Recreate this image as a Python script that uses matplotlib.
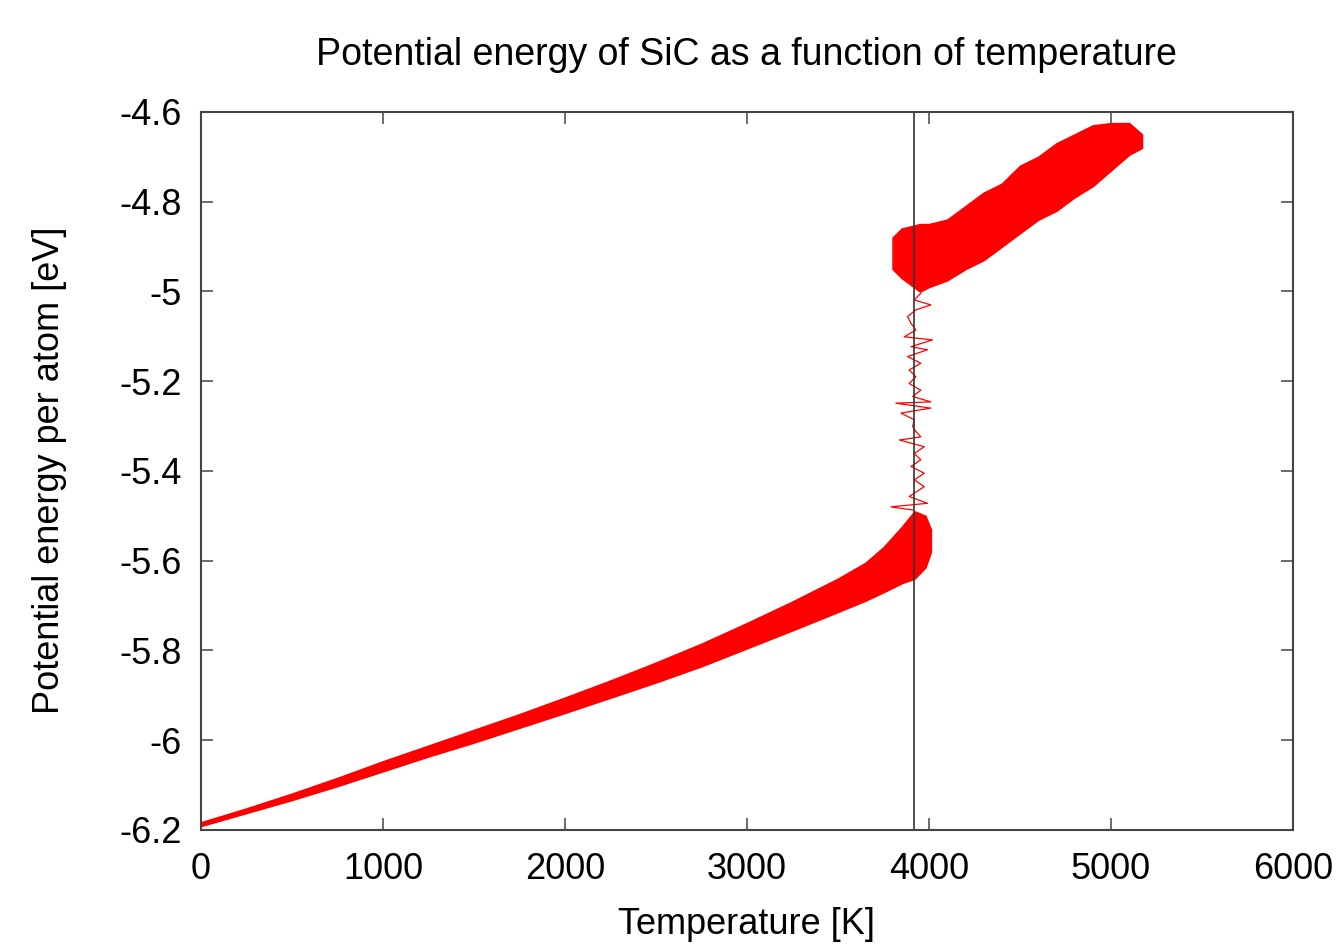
import matplotlib
matplotlib.use('Agg')
import matplotlib.pyplot as plt

plt.rcParams['font.family'] = ['Liberation Sans', 'DejaVu Sans']

# solid (low temperature) branch: envelope of the noisy trace
solid_T = [0, 250, 500, 750, 1000, 1250, 1500, 1750, 2000, 2250, 2500, 2750,
           3000, 3250, 3500, 3650, 3750, 3850, 3920, 3980, 4010]
solid_lo = [-6.191, -6.162, -6.133, -6.102, -6.069, -6.036, -6.005, -5.972,
            -5.939, -5.905, -5.871, -5.835, -5.795, -5.755, -5.714, -5.689,
            -5.670, -5.650, -5.640, -5.615, -5.580]
solid_hi = [-6.183, -6.152, -6.119, -6.084, -6.047, -6.012, -5.977, -5.942,
            -5.905, -5.867, -5.827, -5.785, -5.739, -5.691, -5.640, -5.605,
            -5.570, -5.525, -5.490, -5.500, -5.530]

# liquid (high temperature) branch
liquid_T = [3800, 3850, 3950, 4000, 4100, 4200, 4300, 4400, 4500, 4600,
            4700, 4800, 4900, 5000, 5100, 5170]
liquid_lo = [-4.95, -4.97, -5.00, -4.99, -4.975, -4.95, -4.93, -4.90, -4.87,
             -4.84, -4.82, -4.79, -4.765, -4.73, -4.695, -4.68]
liquid_hi = [-4.88, -4.86, -4.85, -4.85, -4.84, -4.81, -4.78, -4.76, -4.72,
             -4.70, -4.67, -4.65, -4.63, -4.625, -4.625, -4.65]

# melting jump, single trace
jump_T = [3910, 3791, 3992, 3891, 3974, 3919, 3974, 3901, 3955, 3919, 3974,
          3837, 3955, 3928, 3910, 3919, 3846, 4010, 3818, 4010, 3910, 3955,
          3891, 3928, 3891, 3955, 3882, 3992, 3901, 4019, 3864, 3928, 3901,
          3882, 3928, 4010, 3919, 3955]
jump_E = [-5.487, -5.480, -5.472, -5.457, -5.435, -5.420, -5.405, -5.390,
          -5.375, -5.361, -5.346, -5.331, -5.324, -5.312, -5.301, -5.286,
          -5.271, -5.260, -5.249, -5.246, -5.234, -5.220, -5.205, -5.190,
          -5.175, -5.160, -5.145, -5.130, -5.123, -5.108, -5.101, -5.086,
          -5.071, -5.056, -5.041, -5.030, -5.019, -5.004]

T_melt = 3920

fig = plt.figure(figsize=(13.41, 9.44), dpi=100)
ax = fig.add_axes([0.1499, 0.1208, 0.8143, 0.7606])

red = '#ff0000'
ax.fill_between(solid_T, solid_lo, solid_hi, color=red, lw=1.2, edgecolor=red)
ax.fill_between(liquid_T, liquid_lo, liquid_hi, color=red, lw=1.2, edgecolor=red)
ax.plot(jump_T, jump_E, color=red, lw=0.9)
ax.axvline(T_melt, color='#333333', lw=1.2)

ax.set_xlim(0, 6000)
ax.set_ylim(-6.2, -4.6)
xt = [0, 1000, 2000, 3000, 4000, 5000, 6000]
yt = [-6.2, -6.0, -5.8, -5.6, -5.4, -5.2, -5.0, -4.8, -4.6]
ax.set_xticks(xt)
ax.set_xticklabels([str(v) for v in xt])
ax.set_yticks(yt)
ax.set_yticklabels(['-6.2', '-6', '-5.8', '-5.6', '-5.4', '-5.2', '-5', '-4.8', '-4.6'])
ax.tick_params(direction='in', length=8.5, width=1.1, color='#444444',
               top=True, right=True, labelsize=26)
ax.tick_params(axis='x', pad=16)
ax.tick_params(axis='y', pad=14)
for s in ax.spines.values():
    s.set_color('#444444')
    s.set_linewidth(1.5)

fig.text(0.5565, 0.9417, 'Potential energy of SiC as a function of temperature',
         ha='center', va='center', fontsize=27)
fig.text(0.5565, 0.021, 'Temperature [K]', ha='center', va='center', fontsize=26)
fig.text(0.037, 0.502, 'Potential energy per atom [eV]', ha='center', va='center',
         rotation=90, fontsize=26)

fig.savefig('out.png', dpi=100)
